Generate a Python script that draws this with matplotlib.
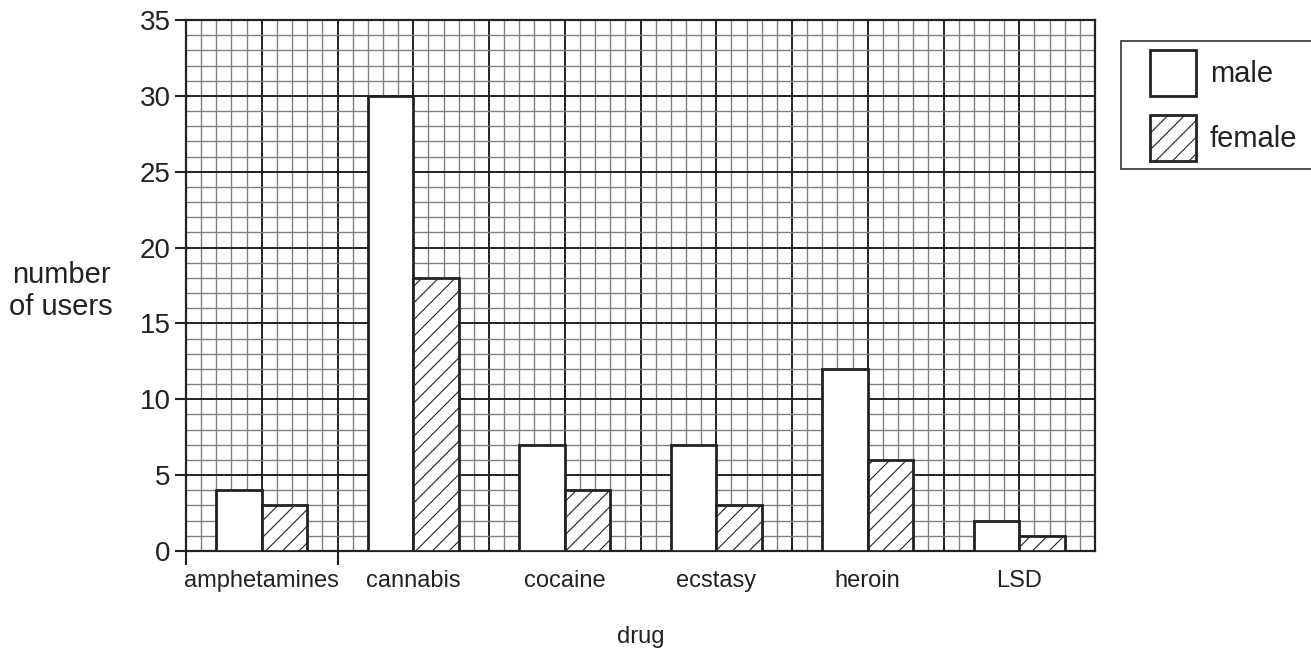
import matplotlib
matplotlib.use("Agg")
import matplotlib.pyplot as plt
import numpy as np
from matplotlib.patches import Patch, Rectangle

drugs = ['amphetamines', 'cannabis', 'cocaine', 'ecstasy', 'heroin', 'LSD']
male = [4, 30, 7, 7, 12, 2]
female = [3, 18, 4, 3, 6, 1]

plt.rcParams['font.family'] = ['Liberation Sans', 'DejaVu Sans']
plt.rcParams['hatch.linewidth'] = 0.8
plt.rcParams['hatch.color'] = '#222222'
ink = '#222222'

W, H = 1311, 649
fig = plt.figure(figsize=(W / 100, H / 100), dpi=100)
ax = fig.add_axes([186 / W, 1 - 551 / H, (1095 - 186) / W, (551 - 20) / H])

n = len(drugs)
ax.set_xlim(0, n)
ax.set_ylim(0, 35)

# graph paper: thin lines every 0.1 group / 1 user, heavy every half group / 5 users
for xv in np.arange(0, n + 0.01, 0.1):
    heavy = abs(xv * 2 - round(xv * 2)) < 1e-6
    ax.axvline(xv, color=ink if heavy else '#808080', lw=1.4 if heavy else 1.0, zorder=0)
for yv in range(0, 36):
    heavy = yv % 5 == 0
    ax.axhline(yv, color=ink if heavy else '#808080', lw=1.4 if heavy else 1.0, zorder=0)

idx = np.arange(n)
w = 0.3
ax.bar(idx + 0.2, male, width=w, align='edge', color='white', edgecolor=ink, linewidth=2, zorder=3)
ax.bar(idx + 0.5, female, width=w, align='edge', color='white', edgecolor=ink, linewidth=2,
       hatch='//', zorder=3)

for s in ax.spines.values():
    s.set_color(ink)
    s.set_linewidth(1.6)

ax.set_yticks(range(0, 36, 5))
ax.tick_params(axis='y', length=8, width=1.5, pad=3, labelsize=20, colors=ink)
ax.set_xticks(idx + 0.5)
ax.set_xticklabels(drugs)
ax.tick_params(axis='x', which='major', length=0, pad=14, labelsize=17, colors=ink)
ax.set_xticks([0, 1], minor=True)
ax.tick_params(axis='x', which='minor', length=10, width=1.5, color=ink)

fig.text(61 / W, 1 - 291 / H, 'number\nof users', ha='center', va='center',
         fontsize=21, color=ink, linespacing=1.15)
fig.text(641 / W, 1 - 637 / H, 'drug', ha='center', va='center', fontsize=17, color=ink)

# legend box runs off the right edge of the picture
fig.patches.append(Rectangle((1121 / W, 1 - 169 / H), 220 / W, 128 / H, transform=fig.transFigure,
                             facecolor='white', edgecolor='#333333', linewidth=1.2, zorder=5))
handles = [Patch(facecolor='white', edgecolor=ink, linewidth=2, label='male'),
           Patch(facecolor='white', edgecolor=ink, linewidth=2, hatch='//', label='female')]
leg = fig.legend(handles=handles, loc='upper left', bbox_to_anchor=(1150 / W, 1 - 50 / H),
                 bbox_transform=fig.transFigure, borderaxespad=0, fontsize=21,
                 handlelength=1.58, handleheight=2.05, handletextpad=0.48, labelspacing=0.66,
                 borderpad=0, frameon=False, labelcolor=ink)
leg.set_zorder(6)

fig.savefig('out.png', dpi=100)
